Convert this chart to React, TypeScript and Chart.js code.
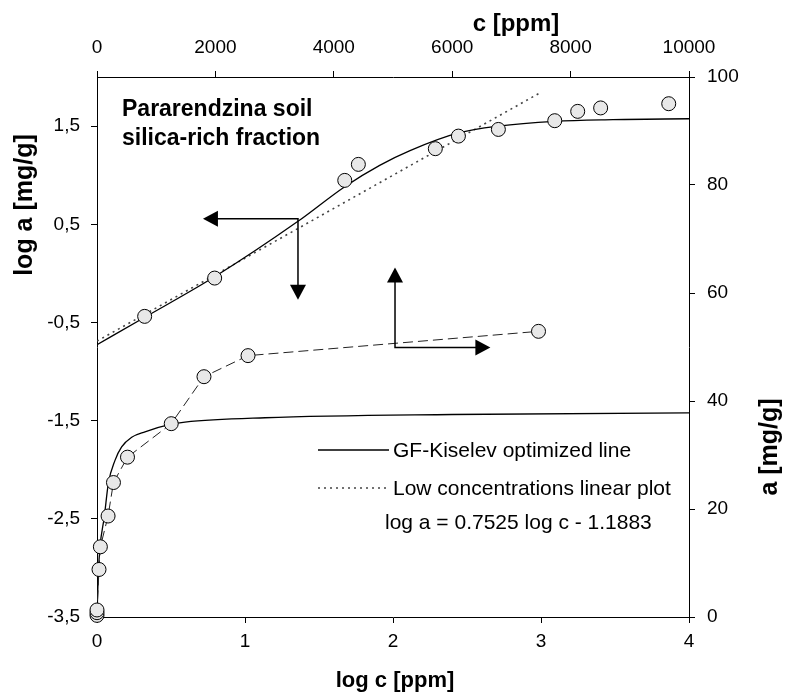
import { useEffect, useRef } from "react";
import { Chart, registerables } from "chart.js";

Chart.register(...registerables);

// ---- axis ticks ----
const logCTicks = [0, 1, 2, 3, 4];
const cTicks = [0, 2000, 4000, 6000, 8000, 10000];
const logATicks = [-3.5, -2.5, -1.5, -0.5, 0.5, 1.5];
const aTicks = [0, 20, 40, 60, 80, 100];

// ---- log a vs log c (bottom / left axes) ----
const logCPoints = [0.322, 0.795, 1.674, 1.766, 2.286, 2.442, 2.712, 3.093, 3.248, 3.403, 3.863];
const logAPoints = [-0.438, -0.048, 0.947, 1.11, 1.27, 1.398, 1.466, 1.555, 1.65, 1.685, 1.728];

const gfLogC = [0, 0.32, 0.8, 1.358, 1.674, 1.91, 2.115, 2.442, 2.712, 3.093, 3.486, 4.0, 4.06];
const gfLogA = [-0.726, -0.45, -0.03, 0.53, 0.883, 1.1, 1.25, 1.43, 1.5, 1.548, 1.565, 1.575, 1.575];

const linLogC = [0, 2.99];
const linLogA = [-0.69, 1.836];

// ---- a vs c (top / right axes) ----
const cPoints = [0, 0, 0, 34, 57, 187, 278, 515, 1254, 1807, 2551, 7458];
const aPoints = [0.3, 0.8, 1.3, 8.8, 13.0, 18.7, 24.9, 29.6, 35.8, 44.5, 48.4, 52.9];

const gfC = [0, 22, 51, 124, 191, 304, 416, 586, 811, 1255, 1486, 2838, 6000, 10000, 10150];
const gfA = [0, 8.0, 13.0, 18.6, 24.7, 29.0, 31.5, 33.3, 34.3, 35.7, 36.1, 36.9, 37.5, 37.8, 37.8];

// ---- arrows (data coordinates) ----
const leftArrowCorner = [1.358, 0.557]; // log c, log a
const leftArrowTipX = 0.716;
const leftArrowTipY = -0.268;
const rightArrowCorner = [5034, 49.9]; // c, a
const rightArrowTipX = 6645;
const rightArrowTipY = 64.7;

// ---- texts ----
const titleLines = ["Pararendzina soil", "silica-rich fraction"];
const legendLabels = ["GF-Kiselev optimized line", "Low concentrations linear plot"];
const equationText = "log a = 0.7525 log c - 1.1883";

const FONT = "'Liberation Sans', Arial, Helvetica, sans-serif";

const zip = (xs: number[], ys: number[]) => xs.map((x, i) => ({ x, y: ys[i] }));
const fmt = (v: number) => String(v).replace(".", ",");

function drawHead(ctx: CanvasRenderingContext2D, x: number, y: number, dir: "l" | "r" | "u" | "d") {
  const L = 15;
  const W = 8;
  ctx.beginPath();
  ctx.moveTo(x, y);
  if (dir === "l") { ctx.lineTo(x + L, y - W); ctx.lineTo(x + L, y + W); }
  if (dir === "r") { ctx.lineTo(x - L, y - W); ctx.lineTo(x - L, y + W); }
  if (dir === "u") { ctx.lineTo(x - W, y + L); ctx.lineTo(x + W, y + L); }
  if (dir === "d") { ctx.lineTo(x - W, y - L); ctx.lineTo(x + W, y - L); }
  ctx.closePath();
  ctx.fill();
}

const decorPlugin = {
  id: "decor",
  afterDatasetsDraw(chart: any) {
    const ctx: CanvasRenderingContext2D = chart.ctx;
    const { x, y, x2, y2 } = chart.scales;
    ctx.save();
    ctx.strokeStyle = "#000";
    ctx.fillStyle = "#000";
    ctx.lineWidth = 1.5;
    ctx.setLineDash([]);
    // left/down arrow
    const cx = x.getPixelForValue(leftArrowCorner[0]);
    const cy = y.getPixelForValue(leftArrowCorner[1]);
    const lx = x.getPixelForValue(leftArrowTipX);
    const dy = y.getPixelForValue(leftArrowTipY);
    ctx.beginPath();
    ctx.moveTo(lx + 10, cy);
    ctx.lineTo(cx, cy);
    ctx.lineTo(cx, dy - 10);
    ctx.stroke();
    drawHead(ctx, lx, cy, "l");
    drawHead(ctx, cx, dy, "d");
    // up/right arrow
    const rx0 = x2.getPixelForValue(rightArrowCorner[0]);
    const ry0 = y2.getPixelForValue(rightArrowCorner[1]);
    const rx = x2.getPixelForValue(rightArrowTipX);
    const uy = y2.getPixelForValue(rightArrowTipY);
    ctx.beginPath();
    ctx.moveTo(rx0, uy + 10);
    ctx.lineTo(rx0, ry0);
    ctx.lineTo(rx - 10, ry0);
    ctx.stroke();
    drawHead(ctx, rx0, uy, "u");
    drawHead(ctx, rx, ry0, "r");

    // title block
    ctx.font = `bold 23px ${FONT}`;
    ctx.textAlign = "left";
    ctx.textBaseline = "middle";
    ctx.fillText(titleLines[0], 122, 110);
    ctx.fillText(titleLines[1], 122, 139);

    // legend
    ctx.lineWidth = 1.3;
    ctx.beginPath();
    ctx.moveTo(318, 450);
    ctx.lineTo(389, 450);
    ctx.stroke();
    ctx.strokeStyle = "#444";
    ctx.lineWidth = 1.6;
    ctx.setLineDash([2, 4]);
    ctx.beginPath();
    ctx.moveTo(318, 488);
    ctx.lineTo(389, 488);
    ctx.stroke();
    ctx.setLineDash([]);
    ctx.font = `21px ${FONT}`;
    ctx.fillText(legendLabels[0], 393, 451);
    ctx.fillText(legendLabels[1], 393, 489);
    ctx.fillText(equationText, 385, 523);

    // axis titles
    ctx.textAlign = "center";
    ctx.font = `bold 24px ${FONT}`;
    ctx.fillText("c [ppm]", 516, 24);
    ctx.font = `bold 22px ${FONT}`;
    ctx.fillText("log c [ppm]", 395, 681);
    ctx.font = `bold 25px ${FONT}`;
    ctx.save();
    ctx.translate(25, 205);
    ctx.rotate(-Math.PI / 2);
    ctx.fillText("log a [mg/g]", 0, 0);
    ctx.restore();
    ctx.save();
    ctx.translate(770, 447);
    ctx.rotate(-Math.PI / 2);
    ctx.fillText("a [mg/g]", 0, 0);
    ctx.restore();
    ctx.restore();
  },
};

function axisCommon(padding: number) {
  return {
    type: "linear" as const,
    grid: { drawOnChartArea: false, drawTicks: true, tickLength: 6, color: "#000", lineWidth: 1 },
    border: { display: true, color: "#000", width: 1 },
    ticks: {
      color: "#000",
      font: { size: 19, family: FONT },
      padding,
      autoSkip: false,
      maxRotation: 0,
      callback: (v: any) => fmt(Number(v)),
    },
    title: { display: false },
  };
}

export default function App() {
  const ref = useRef<HTMLCanvasElement | null>(null);

  useEffect(() => {
    if (!ref.current) return;
    const chart = new Chart(ref.current, {
      type: "scatter",
      data: {
        datasets: [
          {
            label: "log points",
            data: zip(logCPoints, logAPoints),
            xAxisID: "x",
            yAxisID: "y",
            showLine: false,
            pointRadius: 7,
            pointBackgroundColor: "#e8e8e8",
            pointBorderColor: "#000",
            pointBorderWidth: 1,
            clip: false as any,
          },
          {
            label: "a points",
            data: zip(cPoints, aPoints),
            xAxisID: "x2",
            yAxisID: "y2",
            showLine: true,
            borderColor: "#222",
            borderWidth: 1,
            borderDash: [10, 5],
            pointRadius: 7,
            pointBackgroundColor: "#e8e8e8",
            pointBorderColor: "#000",
            pointBorderWidth: 1,
            clip: false as any,
          },
          {
            label: "GF log",
            data: zip(gfLogC, gfLogA),
            xAxisID: "x",
            yAxisID: "y",
            showLine: true,
            pointRadius: 0,
            borderColor: "#000",
            borderWidth: 1.3,
            cubicInterpolationMode: "monotone",
            clip: { left: 0, top: 0, right: 12, bottom: 0 } as any,
          },
          {
            label: "linear",
            data: zip(linLogC, linLogA),
            xAxisID: "x",
            yAxisID: "y",
            showLine: true,
            pointRadius: 0,
            borderColor: "#444",
            borderWidth: 1.6,
            borderDash: [2, 4],
          },
          {
            label: "GF a",
            data: zip(gfC, gfA),
            xAxisID: "x2",
            yAxisID: "y2",
            showLine: true,
            pointRadius: 0,
            borderColor: "#000",
            borderWidth: 1.3,
            cubicInterpolationMode: "monotone",
            clip: { left: 0, top: 0, right: 12, bottom: 0 } as any,
          },
        ],
      },
      options: {
        animation: false,
        responsive: true,
        maintainAspectRatio: false,
        layout: { padding: 0 },
        plugins: { legend: { display: false }, tooltip: { enabled: false } },
        scales: {
          x: {
            ...axisCommon(7),
            position: "bottom",
            min: 0,
            max: 4,
            afterBuildTicks: (s: any) => { s.ticks = logCTicks.map((v) => ({ value: v })); },
            afterFit: (s: any) => { s.height = 80; },
          },
          x2: {
            ...axisCommon(12),
            position: "top",
            min: 0,
            max: 10000,
            afterBuildTicks: (s: any) => { s.ticks = cTicks.map((v) => ({ value: v })); },
            afterFit: (s: any) => { s.height = 77; },
          },
          y: {
            ...axisCommon(11),
            position: "left",
            min: -3.5,
            max: 2,
            afterBuildTicks: (s: any) => { s.ticks = logATicks.map((v) => ({ value: v })); },
            afterFit: (s: any) => { s.width = 97; },
          },
          y2: {
            ...axisCommon(12),
            position: "right",
            min: 0,
            max: 100,
            afterBuildTicks: (s: any) => { s.ticks = aTicks.map((v) => ({ value: v })); },
            afterFit: (s: any) => { s.width = 98; },
          },
        },
      } as any,
      plugins: [decorPlugin],
    });
    return () => chart.destroy();
  }, []);

  return (
    <div style={{ position: "absolute", left: 0, top: 0, width: 787, height: 697, background: "#fff" }}>
      <canvas ref={ref} />
    </div>
  );
}
